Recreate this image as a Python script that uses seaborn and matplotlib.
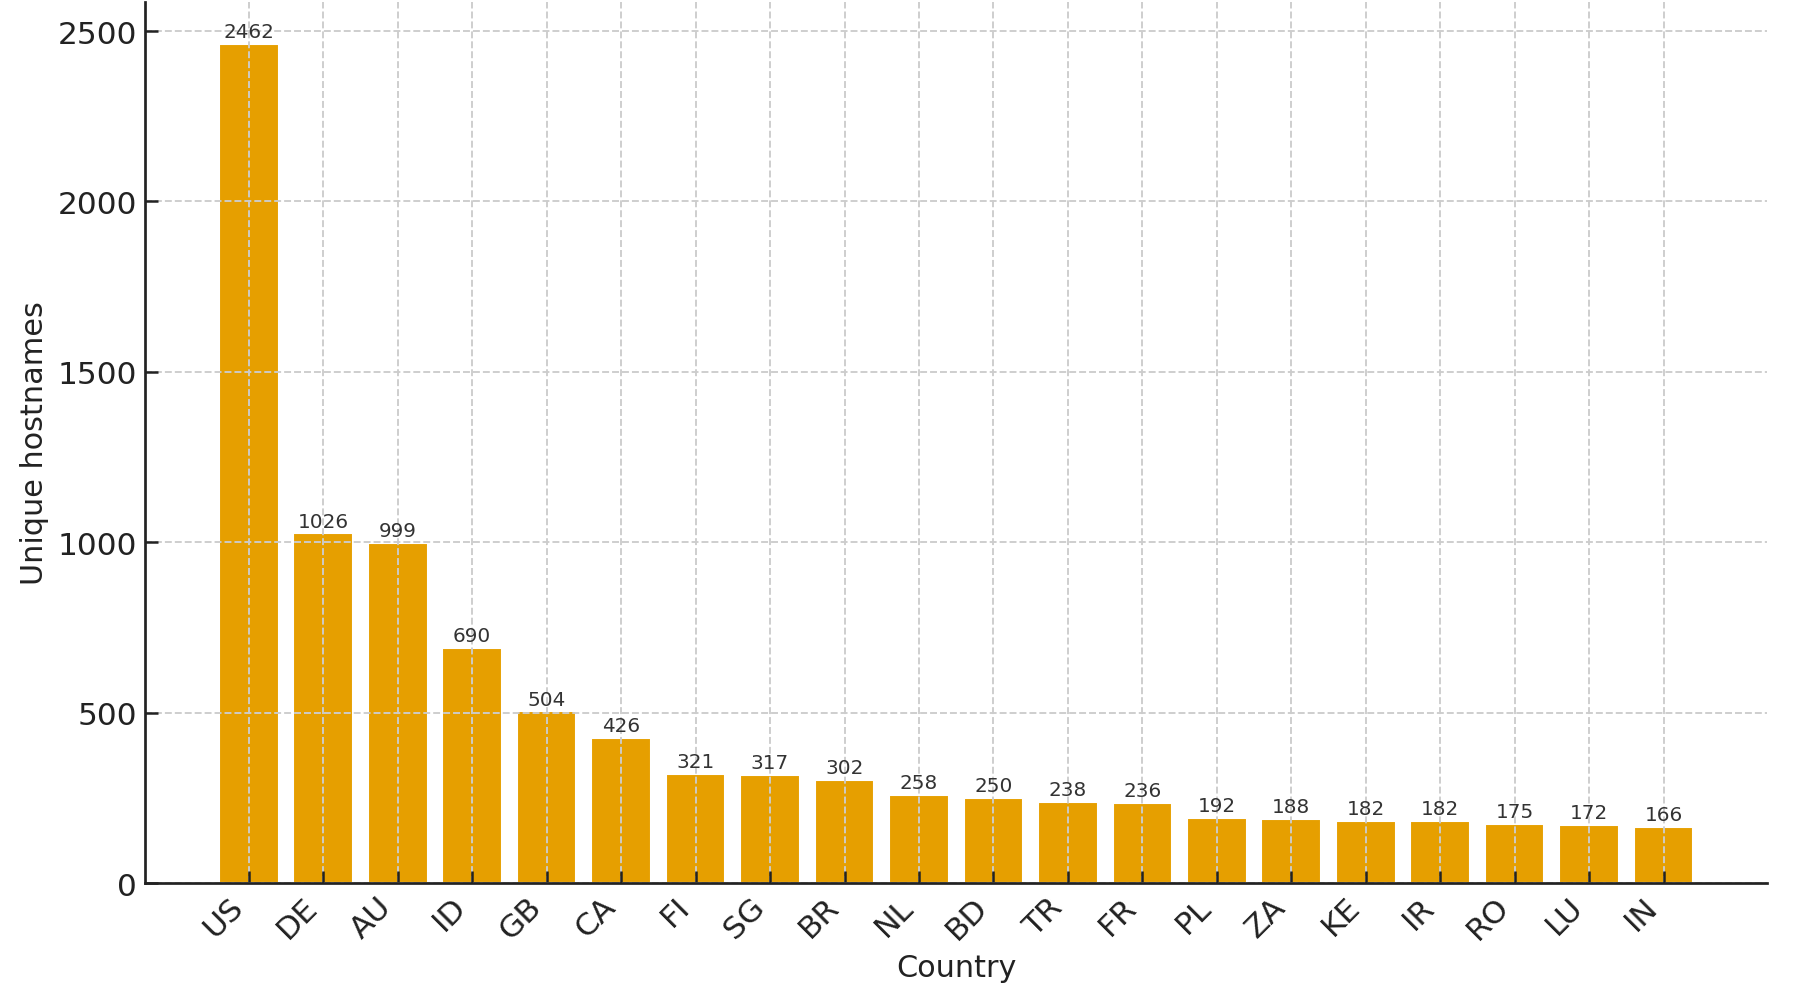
import matplotlib
matplotlib.use("Agg")
import matplotlib.pyplot as plt
import seaborn as sns
import pandas as pd

# datos
paises = ["US", "DE", "AU", "ID", "GB", "CA", "FI", "SG", "BR", "NL",
          "BD", "TR", "FR", "PL", "ZA", "KE", "IR", "RO", "LU", "IN"]
hostnames = [2462, 1026, 999, 690, 504, 426, 321, 317, 302, 258,
             250, 238, 236, 192, 188, 182, 182, 175, 172, 166]

df = pd.DataFrame({"Country": paises, "Unique hostnames": hostnames})

sns.set_theme(style="white")
plt.rcParams["font.family"] = ["DejaVu Sans"]

fig, ax = plt.subplots(figsize=(11.96, 6.713), dpi=150)
fig.subplots_adjust(left=0.081, right=0.985, bottom=0.122, top=0.997)

sns.barplot(data=df, x="Country", y="Unique hostnames", color="#E69F00",
            saturation=1, width=0.8, ax=ax)

# margenes como en matplotlib por defecto
n = len(paises)
rango = (n - 1) + 0.8
ax.set_xlim(-0.4 - 0.05 * rango, n - 1 + 0.4 + 0.05 * rango)
ax.set_ylim(0, max(hostnames) * 1.05)

# etiquetas encima de cada barra
for i, v in enumerate(hostnames):
    ax.text(i, v + 8, str(v), ha="center", va="bottom", fontsize=9.6, color="#333333")

ax.set_axisbelow(False)
ax.grid(True, linestyle="--", color="#cccccc", linewidth=0.9)
sns.despine(ax=ax)
for lado in ["left", "bottom"]:
    ax.spines[lado].set_color("#222222")
    ax.spines[lado].set_linewidth(1.3)
    ax.spines[lado].set_zorder(4)

ax.tick_params(axis="both", direction="in", length=6, width=1.2, color="#222222",
               labelsize=15, labelcolor="#222222", bottom=True, left=True, pad=4)
plt.setp(ax.get_xticklabels(), rotation=45, ha="right")
ax.set_yticks([0, 500, 1000, 1500, 2000, 2500])

ax.set_xlabel("Country", fontsize=14.5, color="#222222")
ax.set_ylabel("Unique hostnames", fontsize=14.5, color="#222222")

plt.savefig("out.png", dpi=150)
plt.close()
